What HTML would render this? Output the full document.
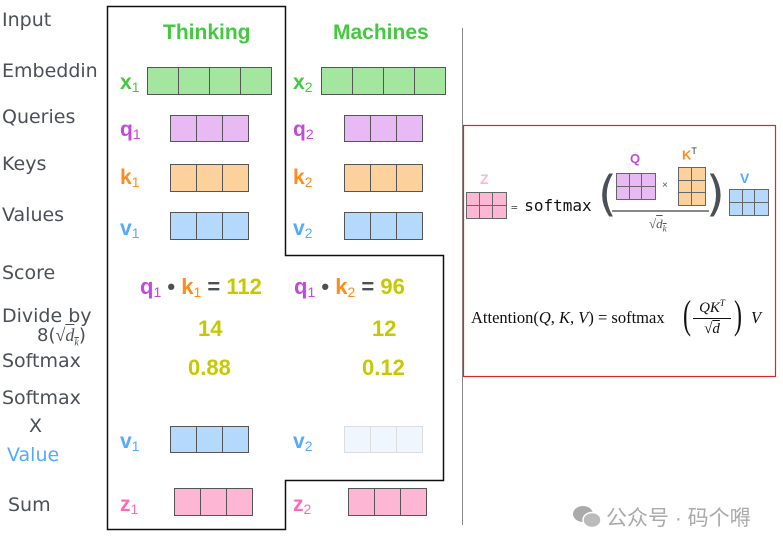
<!DOCTYPE html>
<html><head><meta charset="utf-8"><style>
body{margin:0;width:783px;height:546px;background:#fff;position:relative;overflow:hidden;font-family:"Liberation Sans",sans-serif}
.a{position:absolute;white-space:nowrap}
.lab{position:absolute;font-family:"DejaVu Sans","Liberation Sans",sans-serif;font-size:19px;color:#4b5058;white-space:nowrap}
.b{position:absolute;display:flex;border:1.5px solid #555;box-sizing:border-box}
.b div{flex:1;border-right:1.5px solid #555}
.b div:last-child{border-right:none}
.v{position:absolute;font-weight:bold;font-size:21px;white-space:nowrap}
.v sub{font-size:14px;vertical-align:-3px;font-weight:normal}
.y{color:#c8c800;font-weight:bold;font-size:22px;position:absolute;white-space:nowrap}
.g{position:absolute;display:grid;border:1.2px solid #666;box-sizing:border-box}
.g div{border-right:1px solid #666;border-bottom:1px solid #666}
</style></head><body>
<svg class="a" style="left:0;top:0" width="783" height="546">
<path d="M107.5 6.5H285.5V255.5H443.5V480.5H285.5V529.5H107.5Z" fill="none" stroke="#111" stroke-width="1.5"/>
<line x1="462.5" y1="28" x2="462.5" y2="525" stroke="#888" stroke-width="1"/>
<rect x="463.5" y="125.5" width="312" height="251" fill="none" stroke="#d9262b" stroke-width="1.2"/>
</svg>
<div class="lab" style="left:2px;top:9px">Input</div>
<div class="lab" style="left:2px;top:60px">Embeddin</div>
<div class="lab" style="left:2px;top:106px">Queries</div>
<div class="lab" style="left:2px;top:153px">Keys</div>
<div class="lab" style="left:2px;top:204px">Values</div>
<div class="lab" style="left:2px;top:262px">Score</div>
<div class="lab" style="left:2px;top:305px">Divide by</div>
<div class="lab" style="left:37px;top:325px;font-size:18px">8(<span style="font-family:'Liberation Serif',serif;font-style:italic">√<span style="text-decoration:overline">d<sub style="font-size:10px">k</sub></span></span>)</div>
<div class="lab" style="left:2px;top:350px">Softmax</div>
<div class="lab" style="left:2px;top:387px">Softmax</div>
<div class="lab" style="left:29px;top:415px">X</div>
<div class="lab" style="left:7px;top:444px;color:#55aaff">Value</div>
<div class="lab" style="left:8px;top:494px">Sum</div>

<div class="a" style="left:163px;top:21px;font-size:21px;font-weight:bold;color:#44c840">Thinking</div>
<div class="a" style="left:333px;top:21px;font-size:21px;font-weight:bold;color:#44c840">Machines</div>

<div class="v" style="left:120px;top:71px;color:#44c840">x<sub>1</sub></div>
<div class="b" style="left:147px;top:67px;width:125px;height:28px;background:#a4e59f"><div></div><div></div><div></div><div></div></div>
<div class="v" style="left:293px;top:71px;color:#44c840">x<sub>2</sub></div>
<div class="b" style="left:321px;top:67px;width:125px;height:28px;background:#a4e59f"><div></div><div></div><div></div><div></div></div>

<div class="v" style="left:120px;top:118px;color:#c447e0">q<sub>1</sub></div>
<div class="b" style="left:170px;top:115px;width:79px;height:27px;background:#e7baf3"><div></div><div></div><div></div></div>
<div class="v" style="left:293px;top:118px;color:#c447e0">q<sub>2</sub></div>
<div class="b" style="left:344px;top:115px;width:79px;height:27px;background:#e7baf3"><div></div><div></div><div></div></div>

<div class="v" style="left:120px;top:166px;color:#ff8c1a">k<sub>1</sub></div>
<div class="b" style="left:170px;top:164px;width:79px;height:28px;background:#fdd19b"><div></div><div></div><div></div></div>
<div class="v" style="left:293px;top:166px;color:#ff8c1a">k<sub>2</sub></div>
<div class="b" style="left:344px;top:164px;width:79px;height:28px;background:#fdd19b"><div></div><div></div><div></div></div>

<div class="v" style="left:120px;top:217px;color:#55aaff">v<sub>1</sub></div>
<div class="b" style="left:170px;top:212px;width:79px;height:28px;background:#b4d9fd"><div></div><div></div><div></div></div>
<div class="v" style="left:293px;top:217px;color:#55aaff">v<sub>2</sub></div>
<div class="b" style="left:344px;top:212px;width:79px;height:28px;background:#b4d9fd"><div></div><div></div><div></div></div>

<div class="v" style="left:140px;top:274px;font-size:22px"><span style="color:#c447e0">q<sub>1</sub></span> <span style="color:#4b5058">•</span> <span style="color:#ff8c1a">k<sub>1</sub></span><span style="color:#4b5058"> = </span><span style="color:#c8c800">112</span></div>
<div class="v" style="left:294px;top:274px;font-size:22px"><span style="color:#c447e0">q<sub>1</sub></span> <span style="color:#4b5058">•</span> <span style="color:#ff8c1a">k<sub>2</sub></span><span style="color:#4b5058"> = </span><span style="color:#c8c800">96</span></div>
<div class="y" style="left:198px;top:316px">14</div>
<div class="y" style="left:372px;top:316px">12</div>
<div class="y" style="left:188px;top:355px">0.88</div>
<div class="y" style="left:362px;top:355px">0.12</div>

<div class="v" style="left:120px;top:430px;color:#55aaff">v<sub>1</sub></div>
<div class="b" style="left:170px;top:426px;width:79px;height:27px;background:#b4d9fd"><div></div><div></div><div></div></div>
<div class="v" style="left:293px;top:430px;color:#55aaff">v<sub>2</sub></div>
<div class="b" style="left:344px;top:426px;width:79px;height:27px;background:#eff6fe;border-color:#ddd"><div style="border-color:#ddd"></div><div style="border-color:#ddd"></div><div></div></div>

<div class="v" style="left:120px;top:493px;color:#ff69b4">z<sub>1</sub></div>
<div class="b" style="left:174px;top:488px;width:79px;height:28px;background:#fdb7d5"><div></div><div></div><div></div></div>
<div class="v" style="left:293px;top:493px;color:#ff69b4">z<sub>2</sub></div>
<div class="b" style="left:348px;top:488px;width:79px;height:28px;background:#fdb7d5"><div></div><div></div><div></div></div>

<!-- formula panel -->
<div class="a" style="left:480px;top:171px;font-size:14px;font-weight:bold;color:#fdb7d5">Z</div>
<div class="g" style="left:466px;top:192px;width:41px;height:27px;background:#fdb7d5;grid-template-columns:repeat(3,1fr)"><div></div><div></div><div style="border-right:none"></div><div style="border-bottom:none"></div><div style="border-bottom:none"></div><div style="border:none"></div></div>
<div class="a" style="left:511px;top:196px;font-family:'DejaVu Sans Mono','Liberation Mono',monospace;font-size:16px;color:#111"><span style="font-size:11px;color:#555">= </span>softmax</div>
<div class="a" style="left:598px;top:166px;font-size:48px;color:#4b5058;font-family:'DejaVu Sans',sans-serif">(</div>
<div class="a" style="left:706px;top:166px;font-size:48px;color:#4b5058;font-family:'DejaVu Sans',sans-serif">)</div>
<div class="a" style="left:630px;top:151px;font-size:13px;font-weight:bold;color:#c447e0">Q</div>
<div class="g" style="left:616px;top:173px;width:40px;height:27px;background:#e7baf3;grid-template-columns:repeat(3,1fr)"><div></div><div></div><div style="border-right:none"></div><div style="border-bottom:none"></div><div style="border-bottom:none"></div><div style="border:none"></div></div>
<div class="a" style="left:662px;top:180px;font-size:10px;color:#555">×</div>
<div class="a" style="left:682px;top:146px;font-size:13px;font-weight:bold;color:#ff8c1a">K<sup style="font-size:9px;color:#333;font-weight:normal">T</sup></div>
<div class="g" style="left:678px;top:167px;width:28px;height:39px;background:#fdd19b;grid-template-columns:repeat(2,1fr)"><div></div><div style="border-right:none"></div><div></div><div style="border-right:none"></div><div style="border-bottom:none"></div><div style="border:none"></div></div>
<div class="a" style="left:612px;top:210px;width:97px;height:1.5px;background:#888"></div>
<div class="a" style="left:649px;top:216px;font-family:'Liberation Serif',serif;font-style:italic;font-size:13px;color:#555">√<span style="text-decoration:overline">d<sub style="font-size:9px">k</sub></span></div>
<div class="a" style="left:740px;top:170px;font-size:14px;font-weight:bold;color:#55aaff">V</div>
<div class="g" style="left:729px;top:189px;width:40px;height:27px;background:#b4d9fd;grid-template-columns:repeat(3,1fr)"><div></div><div></div><div style="border-right:none"></div><div style="border-bottom:none"></div><div style="border-bottom:none"></div><div style="border:none"></div></div>

<div class="a" style="left:471px;top:308px;font-family:'Liberation Serif',serif;font-size:16.5px;color:#111">Attention(<i>Q</i>, <i>K</i>, <i>V</i>) = softmax</div>
<div class="a" style="left:683px;top:291px;font-family:'Liberation Serif',serif;font-size:40px;color:#111;transform:scaleX(0.6);transform-origin:left">(</div>
<div class="a" style="left:693px;top:298px;width:38px;text-align:center;font-family:'Liberation Serif',serif;font-style:italic;font-size:15px;color:#111">QK<sup style="font-size:9px">T</sup></div>
<div class="a" style="left:693px;top:318px;width:38px;height:1px;background:#111"></div>
<div class="a" style="left:693px;top:321px;width:38px;text-align:center;font-family:'Liberation Serif',serif;font-style:italic;font-size:15px;color:#111">√<span style="text-decoration:overline">d</span></div>
<div class="a" style="left:734px;top:291px;font-family:'Liberation Serif',serif;font-size:40px;color:#111;transform:scaleX(0.6);transform-origin:left">)</div>
<div class="a" style="left:751px;top:308px;font-family:'Liberation Serif',serif;font-style:italic;font-size:16.5px;color:#111">V</div>

<!-- watermark -->
<svg class="a" style="left:572px;top:505px" width="30" height="24"><ellipse cx="11" cy="9" rx="10" ry="8" fill="#aaa"/><ellipse cx="20" cy="15" rx="9" ry="7.5" fill="#bbb" stroke="#fff" stroke-width="1.5"/></svg>
<div class="a" style="left:606px;top:502px;font-family:'Liberation Sans','Noto Sans CJK SC',sans-serif;font-size:21px;color:#aaa">公众号 · 码个嘚</div>
</body></html>
